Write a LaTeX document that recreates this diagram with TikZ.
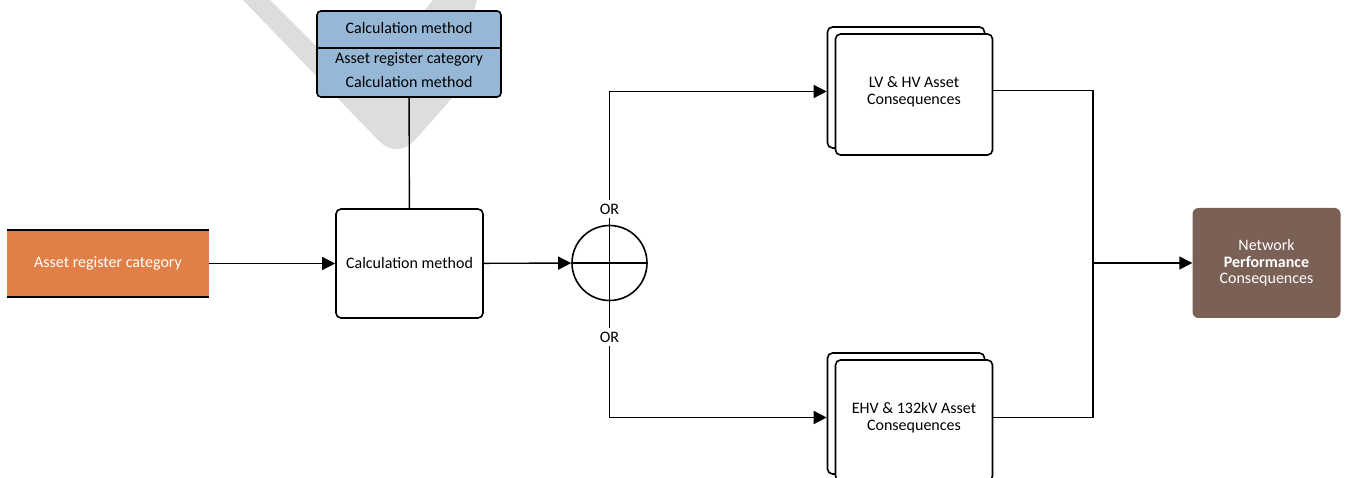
\documentclass[tikz,border=0pt]{standalone}
\usepackage{fontspec}
\setmainfont{Carlito}
\usetikzlibrary{arrows.meta, shapes.geometric}
\definecolor{regorange}{RGB}{224,128,72}
\definecolor{methodblue}{RGB}{150,184,214}
\definecolor{perfbrown}{RGB}{122,96,85}
\definecolor{markgrey}{RGB}{221,221,221}

\begin{document}
\begin{tikzpicture}[
    x=1pt, y=-1pt,
    font=\fontsize{16}{16.5}\selectfont,
    flow/.style={line width=1.4pt, -{Triangle[length=13pt, width=13pt]}},
    link/.style={line width=1.4pt},
    edge/.style={line width=1.6pt},
    process/.style={rectangle, rounded corners=5pt, draw, line width=1.6pt, fill=white, minimum width=147pt, minimum height=109pt, align=center},
    conseq/.style={process, minimum width=157pt, minimum height=121pt, text depth=8pt},
    datastore/.style={rectangle, fill=regorange, text=white, minimum width=202pt, minimum height=67pt},
    classbox/.style={rectangle, rounded corners=4pt, draw, line width=1.6pt, fill=methodblue, minimum width=184pt, minimum height=86pt},
    caption/.style={inner sep=1pt, text height=11pt, text depth=3pt},
    orlabel/.style={fill=white, inner sep=4pt},
    junction/.style={circle, draw, line width=1.6pt, minimum size=75pt, inner sep=0pt},
    result/.style={rectangle, rounded corners=6pt, fill=perfbrown, text=white, minimum width=148pt, minimum height=110pt, align=center},
]
    \useasboundingbox (0,0) rectangle (1347,478);

    \fill[markgrey] (214,-30) -- (378,140) .. controls (389,152) and (404,152) .. (414,141) -- (453,97) -- (484,-30) -- (441,-30) -- (433,0) -- (360,90) -- (240,-30) -- cycle;

    \node[datastore] (register) at (108,263.5) {Asset register category};
    \draw[edge] (register.north west) -- (register.north east) (register.south west) -- (register.south east);

    \node[process] (calc) at (409.5,263.5) {Calculation method};

    \node[classbox] (method) at (409,54) {};
    \coordinate (split) at (409,48);
    \draw[edge] (method.west |- split) -- (method.east |- split);
    \node[caption] (methodname) at (409,30) {Calculation method};
    \node[caption] (methodcat) at (409,60) {Asset register category};
    \node[caption] (methodcalc) at (409,84) {Calculation method};

    \node[junction] (xor) at (609.5,263) {};
    \draw[link] (xor.west) -- (xor.east);
    \node[orlabel] (orup) at (609.5,209) {OR};
    \node[orlabel] (ordown) at (609.5,337) {OR};
    \draw[link] (orup) -- (ordown);

    \node[conseq] (lvback) at (906,87.5) {};
    \node[conseq] (lv) at ([shift={(8,7)}]lvback) {LV \& HV Asset\\Consequences};
    \node[conseq] (ehvback) at (906,413.5) {};
    \node[conseq] (ehv) at ([shift={(8,7)}]ehvback) {EHV \& 132kV Asset\\Consequences};

    \node[result] (perf) at (1266.5,263) {Network\\\textbf{Performance}\\Consequences};

    \draw[flow] (register) -- (calc);
    \draw[link] (method) -- (calc);
    \draw[flow] (calc) -- (xor);
    \draw[flow] (orup) |- ([yshift=-4pt]lvback.west);
    \draw[flow] (ordown) |- ([yshift=-4pt]ehvback.west);

    \coordinate (merge) at (1093,263);
    \draw[link] ([yshift=4pt]lv.east) -| (merge) |- ([yshift=3pt]ehv.east);
    \draw[flow] (merge) -- (perf);
\end{tikzpicture}
\end{document}
